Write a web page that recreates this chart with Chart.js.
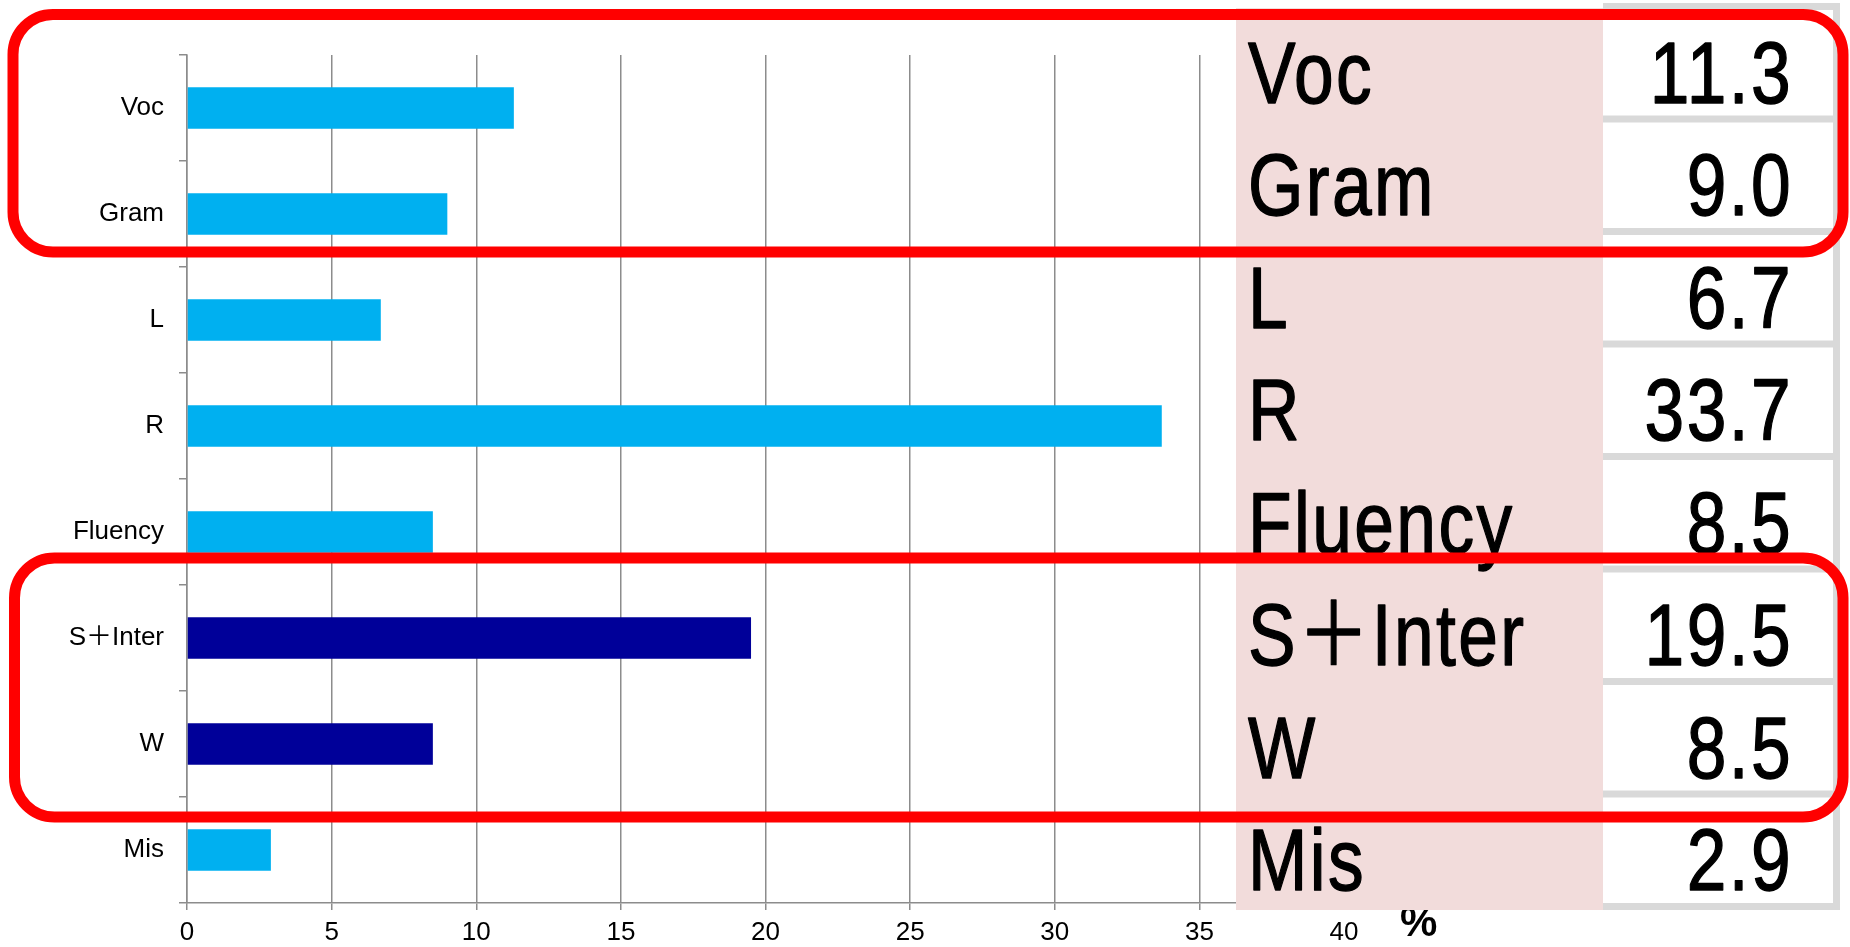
<!DOCTYPE html>
<html><head><meta charset="utf-8">
<script src="https://cdn.jsdelivr.net/npm/chart.js@4"></script>
<style>
html,body{margin:0;padding:0;background:#fff;overflow:hidden}
#wrap{position:relative;width:1850px;height:947px}
canvas,svg{position:absolute;left:0;top:0}
</style></head><body>
<div id="wrap"><canvas id="c" width="1850" height="947"></canvas><svg id="ov" width="1850" height="947" xmlns="http://www.w3.org/2000/svg"></svg></div>
<script>
const categories = ['Voc', 'Gram', 'L', 'R', 'Fluency', 'S＋Inter', 'W', 'Mis'];
const values = [11.3, 9.0, 6.7, 33.7, 8.5, 19.5, 8.5, 2.9];
const highlighted = [false, false, false, false, false, true, true, false];
const tableValues = ['11.3', '9.0', '6.7', '33.7', '8.5', '19.5', '8.5', '2.9'];
const xTicks = [0, 5, 10, 15, 20, 25, 30, 35, 40];
const unitLabel = '%';

const LIGHT = '#00B0F0', DARK = '#000099', GRID = '#8c8c8c';
const FONT = "'Liberation Sans', Arial, 'Noto Sans CJK JP', sans-serif";

new Chart(document.getElementById('c'), {
  type: 'bar',
  data: {
    labels: categories,
    datasets: [{
      data: values,
      backgroundColor: values.map((v, i) => highlighted[i] ? DARK : LIGHT),
      barPercentage: 0.393,
      categoryPercentage: 1
    }]
  },
  options: {
    indexAxis: 'y',
    responsive: false,
    animation: false,
    devicePixelRatio: 1,
    layout: { padding: { top: 55, right: 506, bottom: 0, left: 0 } },
    plugins: { legend: { display: false }, tooltip: { enabled: false } },
    scales: {
      x: {
        min: xTicks[0], max: xTicks[xTicks.length - 1],
        afterBuildTicks(s) { s.ticks = xTicks.map(v => ({ value: v })); },
        ticks: { color: '#000', font: { family: FONT, size: 26 }, padding: 7, maxRotation: 0, autoSkip: false },
        grid: { color: GRID, lineWidth: 1.5, tickLength: 7 },
        border: { color: GRID, width: 1.5 },
        afterFit(s) { s.height = 44; }
      },
      y: {
        ticks: { color: '#000', font: { family: FONT, size: 26 }, padding: 15 },
        grid: { drawOnChartArea: false, color: GRID, lineWidth: 1.5, tickLength: 8 },
        border: { color: GRID, width: 1.5 },
        afterFit(s) { s.width = 187; }
      }
    }
  }
});

// Overlay: unit label, data table, highlight boxes
const NS = 'http://www.w3.org/2000/svg';
const svg = document.getElementById('ov');
function el(tag, attrs, text) {
  const e = document.createElementNS(NS, tag);
  for (const k in attrs) e.setAttribute(k, attrs[k]);
  if (text !== undefined) e.textContent = text;
  svg.appendChild(e);
  return e;
}
// unit label (partly covered by table)
el('text', { x: 1400, y: 936, 'font-family': FONT, 'font-size': 42, 'font-weight': 'bold', fill: '#000' }, unitLabel);

// table
const T_TOP = 3, ROW_H = 112.5, SEP = 7;
const n = categories.length;
el('rect', { x: 1236, y: 8, width: 367, height: T_TOP + ROW_H * n + SEP - 8, fill: '#F2DCDB' });
el('rect', { x: 1603, y: T_TOP, width: 237, height: ROW_H * n + SEP, fill: '#D9D9D9' });
const SX = 0.81;
categories.forEach((c, i) => {
  const top = T_TOP + ROW_H * i + SEP;
  const bottom = T_TOP + ROW_H * (i + 1);
  el('rect', { x: 1603, y: top, width: 230, height: bottom - top, fill: '#fff' });
});
const txtStyle = { 'font-family': FONT, 'font-size': 88, 'letter-spacing': 3, fill: '#000', stroke: '#000', 'stroke-width': 1.4, 'stroke-linejoin': 'round' };
categories.forEach((c, i) => {
  const base = T_TOP + ROW_H * (i + 1) - 13;
  el('text', Object.assign({ transform: `translate(1248,${base}) scale(${SX},1)` }, txtStyle), c);
  el('text', Object.assign({ transform: `translate(1793,${base}) scale(${SX},1)`, 'text-anchor': 'end' }, txtStyle), tableValues[i]);
});

// red rounded highlight boxes
const boxes = [{ x: 13, y: 14.5, w: 1830, h: 237.5 }, { x: 14.5, y: 558, w: 1828.5, h: 259 }];
boxes.forEach(b => el('rect', { x: b.x, y: b.y, width: b.w, height: b.h, rx: 40, ry: 40, fill: 'none', stroke: '#FF0000', 'stroke-width': 11 }));
</script>
</body></html>
